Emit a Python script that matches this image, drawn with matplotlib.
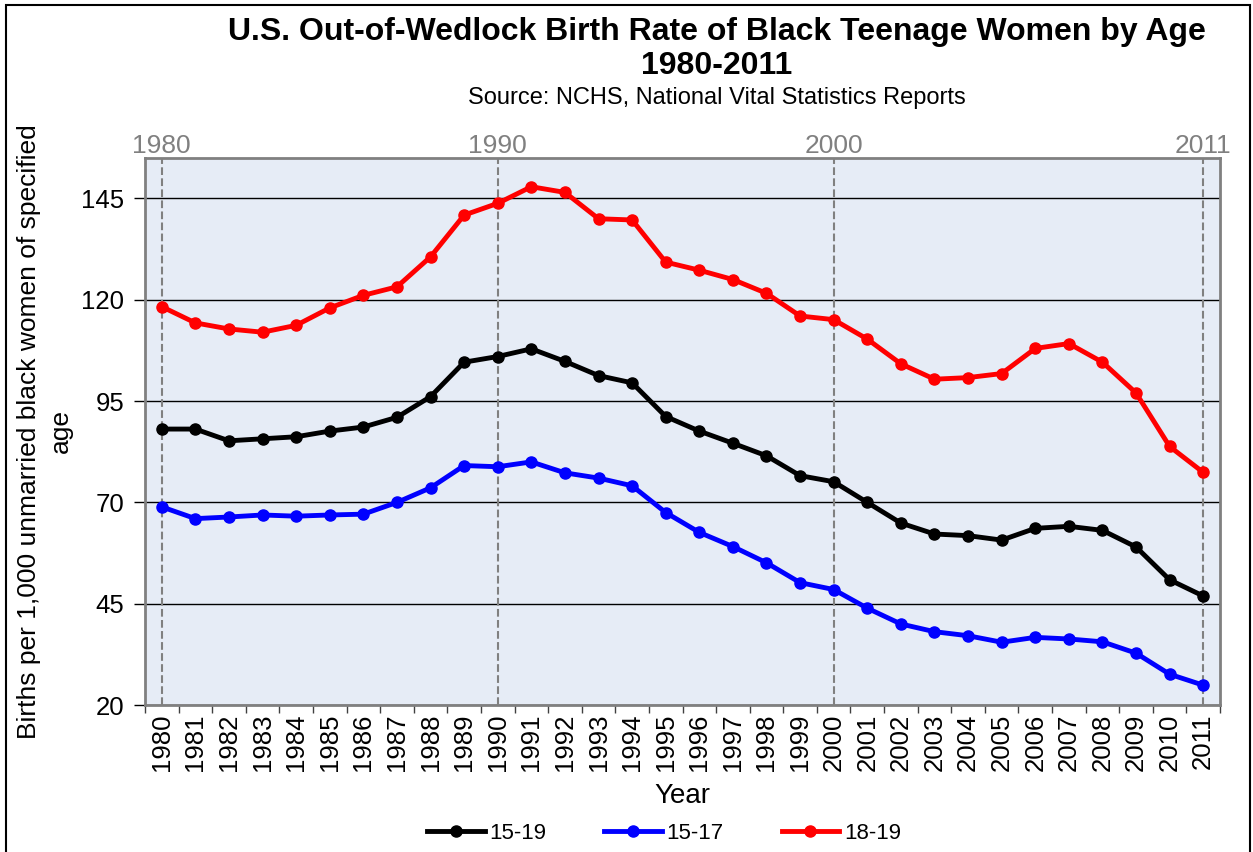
import matplotlib
matplotlib.use('Agg')
import matplotlib.pyplot as plt
from matplotlib.patches import Rectangle
import numpy as np

plt.rcParams['font.family'] = ['Liberation Sans', 'DejaVu Sans']

# Data (births per 1,000 unmarried black women)
years = list(range(1980, 2012))
rate_15_19 = [88.1, 88.1, 85.2, 85.7, 86.2, 87.6, 88.6, 91.0, 96.1, 104.6,
              106.0, 107.9, 104.8, 101.3, 99.5, 91.2, 87.6, 84.6, 81.5, 76.6,
              75.1, 70.0, 64.9, 62.2, 61.8, 60.7, 63.6, 64.1, 63.1, 59.0,
              50.9, 46.9]
rate_15_17 = [68.9, 66.0, 66.4, 66.9, 66.6, 66.9, 67.1, 70.0, 73.6, 79.1,
              78.8, 80.0, 77.3, 76.0, 74.1, 67.5, 62.6, 59.1, 55.1, 50.2,
              48.5, 43.9, 40.0, 38.1, 37.1, 35.5, 36.7, 36.3, 35.6, 32.8,
              27.6, 24.9]
rate_18_19 = [118.3, 114.3, 112.8, 112.0, 113.7, 118.0, 121.1, 123.2, 130.6, 140.9,
              143.8, 147.9, 146.5, 140.0, 139.7, 129.3, 127.3, 125.0, 121.6, 116.0,
              115.1, 110.3, 104.2, 100.4, 100.8, 101.8, 108.0, 109.2, 104.6, 97.0,
              83.8, 77.4]
marked_years = [1980, 1990, 2000, 2011]
y_ticks = [20, 45, 70, 95, 120, 145]

x = np.arange(len(years))

fig = plt.figure(figsize=(12.53, 8.52), dpi=100)
ax = fig.add_axes([0.1157, 0.1725, 0.8580, 0.6421])
ax.set_facecolor('#E6ECF6')

ax.plot(x, rate_15_19, color='black', lw=3.5, marker='o', ms=8, label='15-19', zorder=4)
ax.plot(x, rate_15_17, color='#0000FF', lw=3.5, marker='o', ms=8, label='15-17', zorder=4)
ax.plot(x, rate_18_19, color='#FF0000', lw=3.5, marker='o', ms=8, label='18-19', zorder=4)

# dashed markers for selected years
marked_idx = [years.index(y) for y in marked_years]
for i in marked_idx:
    ax.axvline(i, color='#808080', ls='--', lw=1.5, zorder=2)

ax.set_xlim(-0.5, len(years) - 0.5)
ax.set_ylim(20, 155)
ax.set_yticks(y_ticks)
ax.yaxis.grid(True, color='black', lw=1)
ax.set_axisbelow(True)
ax.tick_params(axis='y', labelsize=18.5, length=8, width=1, pad=7)

ax.set_xticks(x)
ax.set_xticklabels([str(y) for y in years], rotation=90, fontsize=18.5)
ax.set_xticks(np.arange(len(years) + 1) - 0.5, minor=True)
ax.tick_params(axis='x', which='major', length=0, pad=6)
ax.tick_params(axis='x', which='minor', length=6, width=1, color='#404040')

for s in ax.spines.values():
    s.set_color('#808080')
    s.set_linewidth(2)

ax.set_xlabel('Year', fontsize=20, labelpad=9)
ax.set_ylabel('Births per 1,000 unmarried black women of specified\nage',
              fontsize=19, labelpad=6, linespacing=1.4)

top = ax.secondary_xaxis('top')
top.set_xticks(marked_idx)
top.set_xticklabels([str(y) for y in marked_years], fontsize=19, color='#808080')
top.tick_params(length=0, pad=0)
top.spines['top'].set_visible(False)

fig.text(0.572, 0.963, 'U.S. Out-of-Wedlock Birth Rate of Black Teenage Women by Age',
         ha='center', va='center', fontsize=23, fontweight='bold')
fig.text(0.572, 0.922, '1980-2011', ha='center', va='center', fontsize=23, fontweight='bold')
fig.text(0.572, 0.885, 'Source: NCHS, National Vital Statistics Reports',
         ha='center', va='center', fontsize=17)

fig.legend(loc='center', bbox_to_anchor=(0.53, 0.022), ncol=3, frameon=False,
           fontsize=16, handlelength=2.6, columnspacing=2.6, handletextpad=0.2)

fig.patches.append(Rectangle((0.005, -0.01), 0.993, 1.004, transform=fig.transFigure,
                             fill=False, edgecolor='black', lw=1.5))

fig.savefig('out.png', dpi=100)
